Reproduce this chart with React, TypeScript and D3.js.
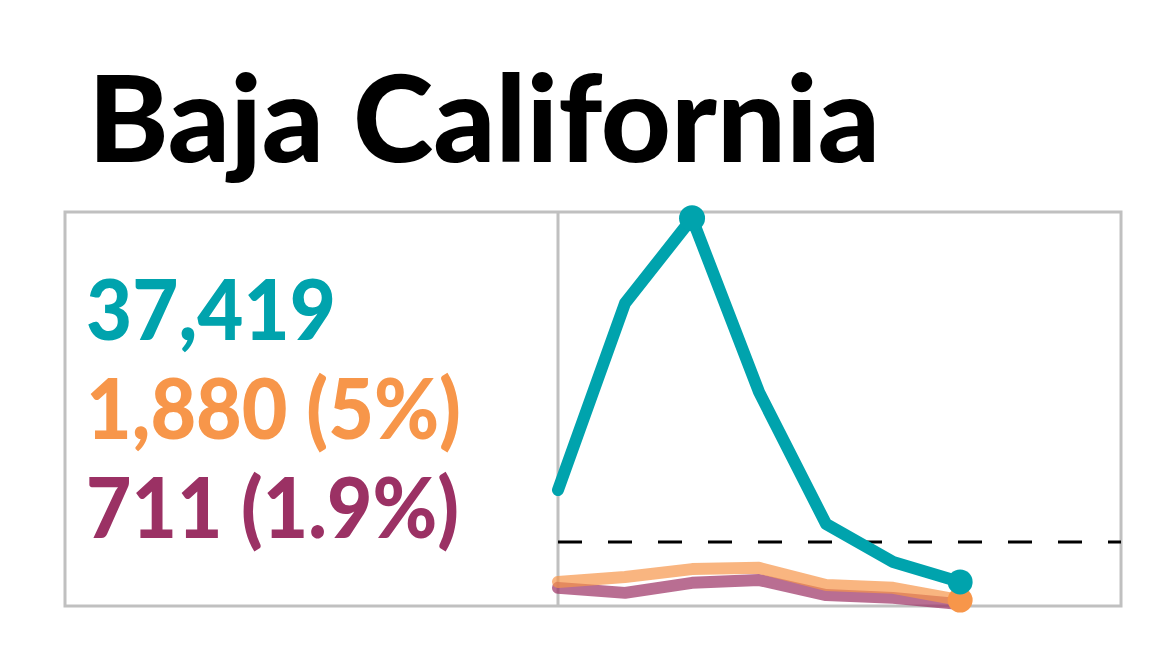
import { useEffect, useRef } from 'react'
import * as d3 from 'd3'

const title = 'Baja California'
const weeks = [0, 1, 2, 3, 4, 5, 6]
const cases = [3710, 9680, 12400, 6840, 2620, 1410, 770]
const hospital = [770, 930, 1180, 1220, 670, 580, 190]
const deaths = [580, 420, 740, 830, 350, 260, 60]
const threshold = 2050
const labels = ['37,419', '1,880 (5%)', '711 (1.9%)']
const labelWidths = [250, 375, 373]
const colors = ['#00a3ad', '#f7964a', '#9b3164']

export default function App() {
  const ref = useRef<SVGSVGElement>(null)

  useEffect(() => {
    if (!ref.current) return
    const svg = d3.select(ref.current)
    svg.selectAll('*').remove()

    const box = { left: 65, right: 1121, top: 212, bottom: 606 }
    const split = 558

    const x = d3.scaleLinear().domain([0, 8.4]).range([split, box.right])
    const y = d3.scaleLinear().domain([0, 12600]).range([box.bottom, box.top])

    // title
    svg.append('text')
      .attr('x', 88).attr('y', 162)
      .attr('textLength', 792).attr('lengthAdjust', 'spacingAndGlyphs')
      .style('font-family', 'Lato, sans-serif')
      .style('font-weight', 900)
      .style('font-size', '121px')
      .attr('fill', '#000')
      .text(title)

    // frame
    svg.append('rect')
      .attr('x', box.left).attr('y', box.top)
      .attr('width', box.right - box.left).attr('height', box.bottom - box.top)
      .attr('fill', 'none').attr('stroke', '#c0c0c0').attr('stroke-width', 3)
    svg.append('line')
      .attr('x1', split).attr('x2', split).attr('y1', box.top).attr('y2', box.bottom)
      .attr('stroke', '#c0c0c0').attr('stroke-width', 3)

    // totals
    labels.forEach((t, i) => {
      svg.append('text')
        .attr('x', 86).attr('y', 340 + i * 99)
        .attr('textLength', labelWidths[i]).attr('lengthAdjust', 'spacingAndGlyphs')
        .style('font-family', 'Lato, sans-serif')
        .style('font-weight', 900)
        .style('font-size', '83px')
        .attr('fill', colors[i])
        .text(t)
    })

    // threshold
    svg.append('line')
      .attr('x1', split).attr('x2', box.right)
      .attr('y1', y(threshold)).attr('y2', y(threshold))
      .attr('stroke', '#000').attr('stroke-width', 3)
      .attr('stroke-dasharray', '24,26')

    const line = d3.line<number>().x((_, i) => x(weeks[i])).y(d => y(d))

    const series = [
      { data: deaths, color: colors[2], opacity: 0.7 },
      { data: hospital, color: colors[1], opacity: 0.7 },
      { data: cases, color: colors[0], opacity: 1 },
    ]
    series.forEach(s => {
      svg.append('path')
        .attr('d', line(s.data))
        .attr('fill', 'none')
        .attr('stroke', s.color)
        .attr('stroke-opacity', s.opacity)
        .attr('stroke-width', 12)
        .attr('stroke-linejoin', 'round')
        .attr('stroke-linecap', 'round')
    })

    const last = weeks.length - 1
    svg.append('circle').attr('cx', x(weeks[last])).attr('cy', y(hospital[last])).attr('r', 12.5).attr('fill', colors[1])
    svg.append('circle').attr('cx', x(weeks[last])).attr('cy', y(cases[last])).attr('r', 12.5).attr('fill', colors[0])
    const peak = d3.maxIndex(cases)
    svg.append('circle').attr('cx', x(weeks[peak])).attr('cy', y(cases[peak])).attr('r', 13).attr('fill', colors[0])
  }, [])

  return (
    <svg ref={ref} width={1153} height={649}
      style={{ position: 'absolute', left: 0, top: 0, display: 'block', background: '#fff' }} />
  )
}
